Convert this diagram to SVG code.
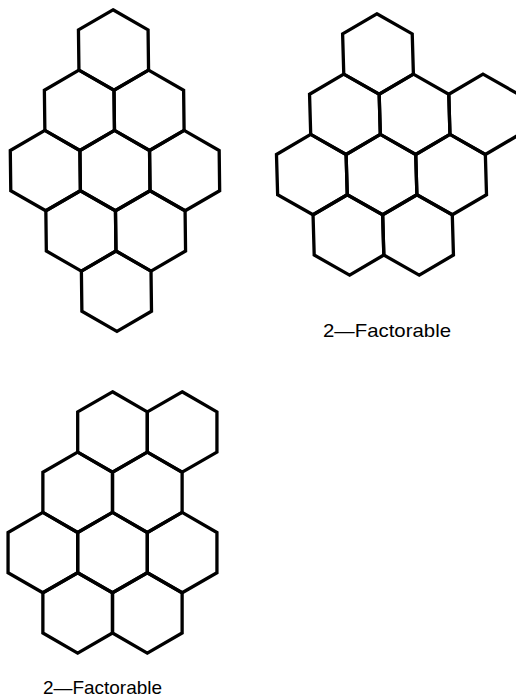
<svg xmlns="http://www.w3.org/2000/svg" xmlns:xlink="http://www.w3.org/1999/xlink" width="516" height="699" viewBox="0 0 516 699">
  <style>
    .hex { fill: none; stroke: #000; stroke-width: 3.3; stroke-linejoin: miter; }
    .lbl { font-family: "Liberation Sans", Arial, sans-serif; font-size: 19px; fill: #000; }
  </style>
  <defs>
    <polygon id="h" class="hex" points="0,-40.2 34.81,-20.1 34.81,20.1 0,40.2 -34.81,20.1 -34.81,-20.1"/>
  </defs>
  <rect width="516" height="699" fill="#fff"/>
  <g id="cluster1" transform="translate(113.5,50) skewX(0.7)">
    <use href="#h" x="0" y="0"/>
    <use href="#h" x="-34.81" y="60.3"/>
    <use href="#h" x="34.81" y="60.3"/>
    <use href="#h" x="-69.63" y="120.6"/>
    <use href="#h" x="0" y="120.6"/>
    <use href="#h" x="69.63" y="120.6"/>
    <use href="#h" x="-34.81" y="180.9"/>
    <use href="#h" x="34.81" y="180.9"/>
    <use href="#h" x="0" y="241.2"/>
  </g>
  <g id="cluster2" transform="translate(378,54) skewX(1.66)">
    <use href="#h" x="0" y="0"/>
    <use href="#h" x="-34.81" y="60.3"/>
    <use href="#h" x="34.81" y="60.3"/>
    <use href="#h" x="104.44" y="60.3"/>
    <use href="#h" x="-69.63" y="120.6"/>
    <use href="#h" x="0" y="120.6"/>
    <use href="#h" x="69.63" y="120.6"/>
    <use href="#h" x="-34.81" y="180.9"/>
    <use href="#h" x="34.81" y="180.9"/>
  </g>
  <g id="label1">
    <text class="lbl" x="323" y="337" textLength="128" lengthAdjust="spacingAndGlyphs">2—Factorable</text>
  </g>
  <g id="cluster3" transform="translate(112.5,432)">
    <use href="#h" x="0" y="0"/>
    <use href="#h" x="69.63" y="0"/>
    <use href="#h" x="-34.81" y="60.3"/>
    <use href="#h" x="34.81" y="60.3"/>
    <use href="#h" x="-69.63" y="120.6"/>
    <use href="#h" x="0" y="120.6"/>
    <use href="#h" x="69.63" y="120.6"/>
    <use href="#h" x="-34.81" y="180.9"/>
    <use href="#h" x="34.81" y="180.9"/>
  </g>
  <g id="label2">
    <text class="lbl" x="43" y="694" textLength="119" lengthAdjust="spacingAndGlyphs">2—Factorable</text>
  </g>
</svg>
